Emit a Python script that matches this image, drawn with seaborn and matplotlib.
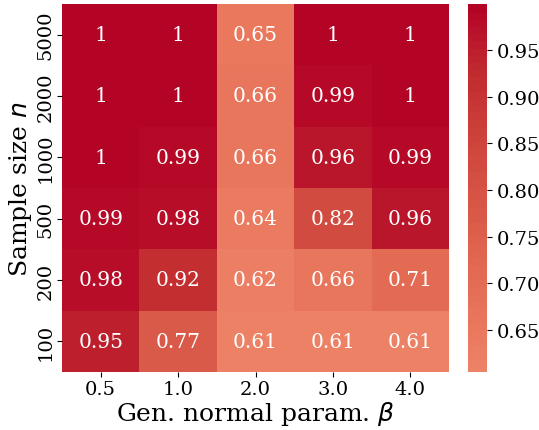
import numpy as np
import pandas as pd
import seaborn as sns
import matplotlib
matplotlib.use("Agg")
import matplotlib.pyplot as plt

betas = ["0.5", "1.0", "2.0", "3.0", "4.0"]
sizes = ["5000", "2000", "1000", "500", "200", "100"]
row_5000 = [1.00, 1.00, 0.65, 1.00, 1.00]
row_2000 = [1.00, 1.00, 0.66, 0.99, 1.00]
row_1000 = [1.00, 0.99, 0.66, 0.96, 0.99]
row_500 = [0.99, 0.98, 0.64, 0.82, 0.96]
row_200 = [0.98, 0.92, 0.62, 0.66, 0.71]
row_100 = [0.95, 0.77, 0.61, 0.61, 0.61]

df = pd.DataFrame([row_5000, row_2000, row_1000, row_500, row_200, row_100],
                  index=sizes, columns=betas)

plt.rcParams["font.family"] = ["DejaVu Serif"]
plt.rcParams["mathtext.fontset"] = "dejavusans"

fig = plt.figure(figsize=(5.39, 4.31), dpi=100)
ax = fig.add_axes([62/539, 1-373/431, (449-62)/539, (373-5)/431])
cax = fig.add_axes([468/539, 1-373/431, 19/539, (373-5)/431])
sns.heatmap(df, ax=ax, cbar_ax=cax, cmap="coolwarm", center=0.0, vmin=0.605, vmax=0.9995,
            annot=True, fmt=".2g", annot_kws={"size": 14.5})
cax.tick_params(labelsize=14)
ax.tick_params(labelsize=14, pad=2)
ax.set_yticklabels(sizes, rotation=90, va="center")
ax.set_xticklabels(betas, rotation=0)
ax.set_xlabel(r"Gen. normal param. $\beta$", fontsize=18, labelpad=1)
ax.set_ylabel(r"Sample size $n$", fontsize=18, labelpad=2)
fig.savefig("out.png", dpi=100)
